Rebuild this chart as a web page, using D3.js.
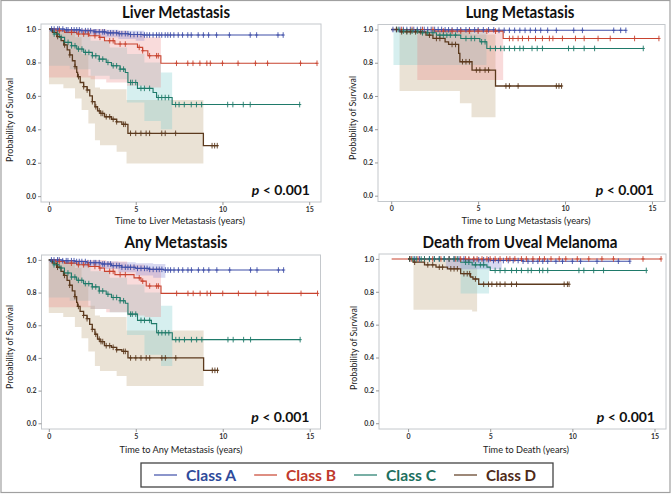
<!DOCTYPE html>
<meta charset="utf-8">
<html>
<head>
  <script src="https://cdn.jsdelivr.net/npm/d3@7"></script>
</head>
<style>
body { margin: 0; background: white; }
text { font-family: Lato, "Noto Sans", sans-serif; }
.title { font-weight: bold; font-size: 17px; text-anchor: middle; fill: #111; }
.tick text { font-size: 7px; font-weight: bold; fill: #333; font-family: Lato, sans-serif; }
.alabel { font-size: 9px; text-anchor: middle; fill: #222; }
.pval { font-weight: bold; font-size: 14px; text-anchor: end; fill: #111; }
.leg { font-weight: bold; font-size: 16px; }
</style>
<body>
<div id="container"></div>
<script>
// ---- data ----
var xTicks = [0, 5, 10, 15];
var yTicks = [0, 0.2, 0.4, 0.6, 0.8, 1.0];
var classNames = ["Class A", "Class B", "Class C", "Class D"];

// Liver metastasis: steps [t, S], bands [t, lower, upper], censor times
var liverA = [[0,1],[0.9,0.995],[1.8,0.99],[2.6,0.983],[3.3,0.977],[4.0,0.972],[4.6,0.967],[5.4,0.964],[13.5,0.964]];
var liverB = [[0,1],[0.4,0.99],[0.9,0.98],[1.6,0.97],[2.3,0.96],[2.9,0.95],[3.2,0.93],[3.8,0.91],[5.1,0.89],[5.4,0.87],[5.7,0.84],[6.45,0.795],[15.45,0.795]];
var liverC = [[0,1],[0.1,0.99],[0.3,0.97],[0.6,0.95],[0.9,0.92],[1.3,0.9],[1.6,0.88],[2.0,0.86],[2.5,0.84],[2.9,0.82],[3.3,0.8],[3.6,0.78],[4.1,0.76],[4.4,0.74],[4.55,0.68],[5.1,0.645],[6.0,0.62],[6.2,0.59],[7.1,0.548],[14.45,0.548]];
var liverD = [[0,1],[0.2,0.98],[0.45,0.955],[0.7,0.93],[0.85,0.905],[1.05,0.875],[1.2,0.845],[1.35,0.81],[1.5,0.775],[1.6,0.74],[1.65,0.715],[1.8,0.68],[2.0,0.655],[2.2,0.635],[2.35,0.6],[2.5,0.565],[2.65,0.535],[2.8,0.51],[2.95,0.495],[3.2,0.475],[3.6,0.46],[3.9,0.445],[4.2,0.43],[4.55,0.376],[8.9,0.302],[9.75,0.302]];
var liverBandA = [[0,0.985,1],[1,0.975,1],[2,0.965,1],[3,0.95,0.995],[4,0.94,0.99],[5,0.93,0.99],[5.5,0.93,0.99]];
var liverBandB = [[0,0.71,1],[2.4,0.7,1],[3.3,0.68,0.99],[4.5,0.66,0.97],[5.5,0.65,0.95],[6.45,0.65,0.95]];
var liverBandC = [[0,0.78,1],[1.2,0.76,0.98],[2.4,0.72,0.93],[3.5,0.70,0.89],[4.5,0.56,0.85],[5.5,0.45,0.8],[6.45,0.40,0.74],[7.1,0.40,0.74]];
var liverBandD = [[0,0.67,1],[0.83,0.645,0.99],[1.5,0.585,0.95],[1.88,0.515,0.85],[2.27,0.435,0.72],[2.65,0.335,0.65],[2.94,0.305,0.64],[3.9,0.265,0.64],[4.47,0.195,0.575],[8.9,0.195,0.575]];
var liverCensA = [0.15,0.3,0.5,0.6,0.8,1.0,1.1,1.3,1.45,1.6,1.75,1.9,2.1,2.25,2.4,2.6,2.7,2.9,3.1,3.2,3.4,3.55,3.7,3.9,4.05,4.2,4.4,4.55,4.7,4.9,5.1,5.3,5.5,5.65,5.8,6.0,6.2,6.35,6.5,6.7,6.85,7.0,7.2,7.45,7.7,8.0,8.2,8.6,8.9,9.2,9.66,10.4,11.6,11.97,13.2,13.5];
var liverCensB = [0.6,1.3,1.7,2.0,2.27,2.65,2.94,3.5,3.7,4.1,4.4,5.2,5.4,5.8,6.2,6.3,7.35,8.0,8.3,8.7,9.1,9.3,10.0,10.9,11.9,12.6,14.5,15.45];
var liverCensC = [0.3,0.5,0.7,0.9,1.1,1.3,1.5,1.7,1.9,2.1,2.3,2.5,2.7,2.9,3.1,3.4,3.7,3.9,4.1,4.3,4.7,4.8,5.0,5.3,5.5,5.8,6.3,6.5,6.7,6.9,7.3,7.5,7.8,8.2,8.5,8.8,10.3,10.6,11.2,11.6,14.45];
var liverCensD = [0.5,0.9,1.2,1.5,1.7,2.0,2.2,2.5,2.7,2.9,3.0,3.1,3.3,3.5,3.7,3.9,4.3,4.4,4.7,5.0,5.3,5.6,5.8,6.5,6.7,7.3,9.4,9.55,9.7];

// Lung metastasis
var lungA = [[0,1],[3.0,0.998],[6,0.995],[13.5,0.995]];
var lungB = [[0,1],[2.5,0.99],[6.44,0.946],[15.4,0.946]];
var lungC = [[0,1],[0.5,0.99],[1.6,0.98],[2.6,0.966],[4.0,0.946],[5.1,0.926],[5.5,0.886],[14.5,0.886]];
var lungD = [[0,1],[0.5,0.986],[2.0,0.966],[2.4,0.946],[3.1,0.926],[3.3,0.91],[3.88,0.856],[3.95,0.806],[4.65,0.756],[6.0,0.66],[9.84,0.66]];
var lungBandA = [[0,0.99,1],[6.5,0.99,1]];
var lungBandB = [[1.5,0.696,1],[6.44,0.696,1]];
var lungBandC = [[0.13,0.786,1],[5.48,0.786,1]];
var lungBandD = [[0.48,0.63,1],[3.95,0.556,1],[4.62,0.472,0.97],[6.0,0.472,0.97]];
var lungCensA = [0.1,0.3,0.5,0.7,0.9,1.1,1.3,1.5,1.7,1.9,2.1,2.3,2.5,2.7,2.9,3.1,3.3,3.5,3.8,4.0,4.3,4.5,4.8,5.0,5.3,5.6,5.9,6.2,6.5,6.8,7.1,7.4,7.7,8.0,8.3,8.6,9.0,9.5,10.5,11.0,12.8,13.2,13.5];
var lungCensB = [0.6,1.2,1.8,2.4,3.0,3.5,4.0,4.5,5.0,5.5,6.0,6.8,7.0,7.3,7.55,7.9,8.3,8.7,9.1,9.3,9.85,10.6,11.1,11.9,12.6,14.0,15.4];
var lungCensC = [0.4,0.7,0.9,1.2,1.5,1.8,2.1,2.4,2.8,3.0,3.2,3.4,3.7,4.3,4.6,4.8,5.2,5.4,5.7,6.0,6.3,6.5,6.8,7.1,7.4,7.6,8.1,8.4,8.7,10.2,10.5,11.1,11.7,14.5];
var lungCensD = [0.3,0.6,0.9,1.1,1.4,1.7,2.2,2.6,2.8,3.5,3.7,4.1,4.3,4.5,4.9,5.1,5.4,5.6,6.6,6.8,7.3,9.5,9.65,9.8];

// Any metastasis
var anyA = [[0,1],[0.8,0.995],[1.5,0.99],[2.2,0.983],[3.0,0.975],[3.6,0.965],[4.2,0.955],[5.0,0.948],[5.8,0.942],[6.6,0.938],[13.5,0.938]];
var anyB = [[0,1],[0.4,0.99],[0.9,0.98],[1.6,0.97],[2.3,0.96],[2.9,0.95],[3.2,0.93],[3.8,0.91],[4.9,0.89],[5.3,0.87],[5.6,0.84],[6.45,0.795],[15.45,0.795]];
var anyC = [[0,1],[0.1,0.99],[0.3,0.97],[0.6,0.95],[0.9,0.92],[1.3,0.895],[1.6,0.875],[2.0,0.855],[2.5,0.835],[2.9,0.81],[3.3,0.79],[3.6,0.77],[4.1,0.75],[4.4,0.735],[4.55,0.668],[5.1,0.63],[5.9,0.61],[6.2,0.554],[7.1,0.512],[14.45,0.512]];
var anyD = [[0,1],[0.2,0.98],[0.45,0.955],[0.7,0.93],[0.85,0.905],[1.05,0.875],[1.2,0.845],[1.35,0.81],[1.5,0.775],[1.6,0.74],[1.65,0.715],[1.8,0.685],[2.0,0.66],[2.2,0.64],[2.35,0.605],[2.5,0.575],[2.65,0.545],[2.8,0.515],[2.95,0.5],[3.2,0.475],[3.6,0.465],[3.9,0.45],[4.2,0.44],[4.55,0.4],[8.9,0.324],[9.75,0.324]];
var anyBandA = [[0,0.985,1],[1,0.975,1],[2,0.96,0.995],[3,0.945,0.99],[4,0.925,0.985],[5,0.905,0.98],[6,0.89,0.975],[6.7,0.89,0.975]];
var anyBandB = [[0,0.71,1],[2.4,0.70,1],[3.3,0.68,0.99],[4.5,0.66,0.97],[5.5,0.65,0.95],[6.45,0.65,0.95]];
var anyBandC = [[0,0.77,1],[1.2,0.75,0.98],[2.4,0.7,0.93],[3.5,0.68,0.89],[4.5,0.54,0.85],[5.5,0.42,0.8],[6.45,0.35,0.72],[7.1,0.35,0.72]];
var anyBandD = [[0,0.675,1],[0.83,0.65,0.99],[1.5,0.59,0.95],[1.88,0.52,0.85],[2.27,0.44,0.72],[2.65,0.35,0.66],[2.94,0.32,0.65],[3.9,0.29,0.65],[4.47,0.228,0.568],[8.9,0.228,0.568]];
var anyCensA = liverCensA;
var anyCensB = liverCensB;
var anyCensC = liverCensC;
var anyCensD = liverCensD;

// Death from uveal melanoma
var deathA = [[0,1],[3.5,0.995],[5.0,0.99],[7.0,0.986],[13.5,0.986]];
var deathB = [[-1,1],[15.4,1]];
var deathC = [[0,1],[3.2,0.98],[3.9,0.964],[4.8,0.95],[5.0,0.93],[14.45,0.93]];
var deathD = [[0,1],[0.3,0.98],[1.0,0.964],[1.7,0.95],[2.4,0.94],[3.2,0.91],[3.8,0.89],[3.95,0.878],[4.3,0.846],[9.8,0.846]];
var deathBandA = [[2.3,0.937,1],[5.7,0.937,1]];
var deathBandB = null;
var deathBandC = [[3.2,0.79,1],[4.93,0.79,1]];
var deathBandD = [[0.33,0.69,1],[3.9,0.68,1],[4.2,0.68,1]];
var deathCensA = [0.1,0.4,0.7,1.0,1.3,1.6,1.9,2.2,2.5,2.8,3.1,3.4,3.7,4.0,4.3,4.6,4.9,5.2,5.5,5.8,6.1,6.4,6.7,7.0,7.3,7.6,7.9,8.2,8.5,9.0,9.4,10.0,10.5,11.5,12.8,13.5];
var deathCensB = [0.2,0.6,1.0,1.5,2.0,2.5,2.9,3.2,3.5,3.7,4.0,4.2,4.5,4.8,5.0,5.3,5.6,6.0,6.2,6.5,6.9,7.2,7.6,8.0,8.3,8.7,9.2,9.6,10.3,11.0,11.8,12.5,14.3,15.4];
var deathCensC = [0.1,0.3,0.5,0.8,1.0,1.3,1.6,1.9,2.2,2.5,2.8,3.0,3.5,3.7,4.1,4.4,4.6,5.3,5.6,5.9,6.3,6.6,6.9,7.3,7.5,8.0,8.2,8.5,10.4,10.7,11.3,11.9,14.5];
var deathCensD = [0.1,0.4,1.2,1.5,1.9,2.1,2.6,2.8,3.0,3.4,3.6,3.75,4.1,4.6,4.9,5.1,5.4,5.6,5.9,6.3,6.6,9.5,9.7,9.8];

// ---- drawing ----
var width = 672, height = 496;
var lineColors = ["#3f4fa8", "#c8432f", "#1f7a6a", "#5c3a1e"];
var bandColors = ["rgba(130,130,210,0.30)", "rgba(235,125,125,0.28)", "rgba(130,205,205,0.33)", "rgba(185,160,115,0.30)"];
var legendColors = ["#2e4a9a", "#c0392b", "#1d6f5e", "#4e2a18"];

var panels = [
  {title: "Liver Metastasis", xlab: "Time to Liver Metastasis (years)", x: 41, y: 24, w: 280, h: 178, xdom: [-0.46, 15.68],
   tx: 176, ty: 18, tw: 108, lx: 180, ly: 224, lw: 130, yx: 13, yy: 120,
   steps: [liverA, liverB, liverC, liverD], bands: [liverBandA, liverBandB, liverBandC, liverBandD], cens: [liverCensA, liverCensB, liverCensC, liverCensD]},
  {title: "Lung Metastasis", xlab: "Time to Lung Metastasis (years)", x: 378, y: 24.5, w: 287, h: 177, xdom: [-0.76, 15.75],
   tx: 520, ty: 18, tw: 109, lx: 526, ly: 224, lw: 129, yx: 356, yy: 118,
   steps: [lungA, lungB, lungC, lungD], bands: [lungBandA, lungBandB, lungBandC, lungBandD], cens: [lungCensA, lungCensB, lungCensC, lungCensD]},
  {title: "Any Metastasis", xlab: "Time to Any Metastasis (years)", x: 41.5, y: 255, w: 279, h: 174, xdom: [-0.42, 15.62],
   tx: 176, ty: 248, tw: 103, lx: 181, ly: 453, lw: 123, yx: 13, yy: 347,
   steps: [anyA, anyB, anyC, anyD], bands: [anyBandA, anyBandB, anyBandC, anyBandD], cens: [anyCensA, anyCensB, anyCensC, anyCensD]},
  {title: "Death from Uveal Melanoma", xlab: "Time to Death (years)", x: 379, y: 254, w: 287, h: 175, xdom: [-1.77, 15.7],
   tx: 520, ty: 248, tw: 195, lx: 526, ly: 453, lw: 86, yx: 357, yy: 348,
   steps: [deathA, deathB, deathC, deathD], bands: [deathBandA, deathBandB, deathBandC, deathBandD], cens: [deathCensA, deathCensB, deathCensC, deathCensD]}
];

var svg = d3.select("#container").append("svg")
  .attr("width", width).attr("height", height);

// outer gray frame
svg.append("rect")
  .attr("x", 1).attr("y", 0.5).attr("width", 669).attr("height", 492)
  .attr("fill", "none").attr("stroke", "#a0a0a0").attr("stroke-width", 1.2);

function survAt(steps, t) {
  var s = steps[0][1];
  steps.forEach(function(d) { if (d[0] <= t) s = d[1]; });
  return s;
}

panels.forEach(function(p) {
  var g = svg.append("g");
  var xScale = d3.scaleLinear().domain(p.xdom).range([p.x, p.x + p.w]);
  var yScale = d3.scaleLinear().domain([-0.035, 1.03]).range([p.y + p.h, p.y]);

  // confidence bands (D first so A sits on top)
  var area = d3.area().curve(d3.curveStepAfter)
    .x(function(d) { return xScale(d[0]); })
    .y0(function(d) { return yScale(d[1]); })
    .y1(function(d) { return yScale(d[2]); });
  [3, 2, 1, 0].forEach(function(i) {
    if (!p.bands[i]) return;
    g.append("path").datum(p.bands[i])
      .attr("d", area).attr("fill", bandColors[i]);
  });

  // plot frame
  g.append("rect")
    .attr("x", p.x).attr("y", p.y).attr("width", p.w).attr("height", p.h)
    .attr("fill", "none").attr("stroke", "#c4c8cc").attr("stroke-width", 1);

  var yAxis = d3.axisLeft(yScale).tickValues(yTicks).tickFormat(d3.format(".1f")).tickSize(3).tickPadding(2);
  var xAxis = d3.axisBottom(xScale).tickValues(xTicks).tickSize(3).tickPadding(2);
  var ya = g.append("g").attr("transform", "translate(" + p.x + ",0)").call(yAxis);
  var xa = g.append("g").attr("transform", "translate(0," + (p.y + p.h) + ")").call(xAxis);
  [ya, xa].forEach(function(a) {
    a.select(".domain").remove();
    a.selectAll(".tick line").attr("stroke", "#999");
  });

  // survival curves
  var line = d3.line().curve(d3.curveStepAfter)
    .x(function(d) { return xScale(d[0]); })
    .y(function(d) { return yScale(d[1]); });
  [0, 1, 2, 3].forEach(function(i) {
    g.append("path").datum(p.steps[i])
      .attr("d", line).attr("fill", "none")
      .attr("stroke", lineColors[i]).attr("stroke-width", i == 3 ? 1.3 : 1.1);
  });

  // censor marks
  [0, 1, 2, 3].forEach(function(i) {
    g.selectAll(null).data(p.cens[i]).enter().append("path")
      .attr("d", function(t) {
        var cx = xScale(t), cy = yScale(survAt(p.steps[i], t));
        return "M" + cx + "," + (cy - 2.8) + "V" + (cy + 2.8) + "M" + (cx - 1.6) + "," + cy + "H" + (cx + 1.6);
      })
      .attr("stroke", lineColors[i]).attr("stroke-width", 0.9).attr("fill", "none");
  });

  // texts
  g.append("text").attr("class", "title").attr("x", p.tx).attr("y", p.ty)
    .attr("textLength", p.tw).attr("lengthAdjust", "spacingAndGlyphs").text(p.title);
  g.append("text").attr("class", "alabel").attr("x", p.lx).attr("y", p.ly)
    .attr("textLength", p.lw).attr("lengthAdjust", "spacingAndGlyphs").text(p.xlab);
  g.append("text").attr("class", "alabel")
    .attr("transform", "translate(" + p.yx + "," + p.yy + ") rotate(-90)")
    .attr("textLength", 84).attr("lengthAdjust", "spacingAndGlyphs").text("Probability of Survival");
  var pv = g.append("text").attr("class", "pval")
    .attr("x", p.x + p.w - 11).attr("y", yScale(0.0) - 1);
  pv.append("tspan").attr("font-style", "italic").text("p");
  pv.append("tspan").text(" < 0.001");
});

// legend
var legend = svg.append("g");
legend.append("rect").attr("x", 141).attr("y", 463).attr("width", 412).attr("height", 24)
  .attr("fill", "white").attr("stroke", "#444").attr("stroke-width", 1.3);
var legX = d3.scaleBand().domain(classNames).range([152, 552]);
classNames.forEach(function(c, i) {
  var x0 = legX(c);
  legend.append("line").attr("x1", x0 + 2).attr("x2", x0 + 25).attr("y1", 475).attr("y2", 475)
    .attr("stroke", lineColors[i]).attr("stroke-width", 1.2);
  legend.append("text").attr("class", "leg").attr("x", x0 + 34).attr("y", 481)
    .attr("fill", legendColors[i]).attr("textLength", 50).attr("lengthAdjust", "spacingAndGlyphs").text(c);
});
</script>
</body>
</html>
